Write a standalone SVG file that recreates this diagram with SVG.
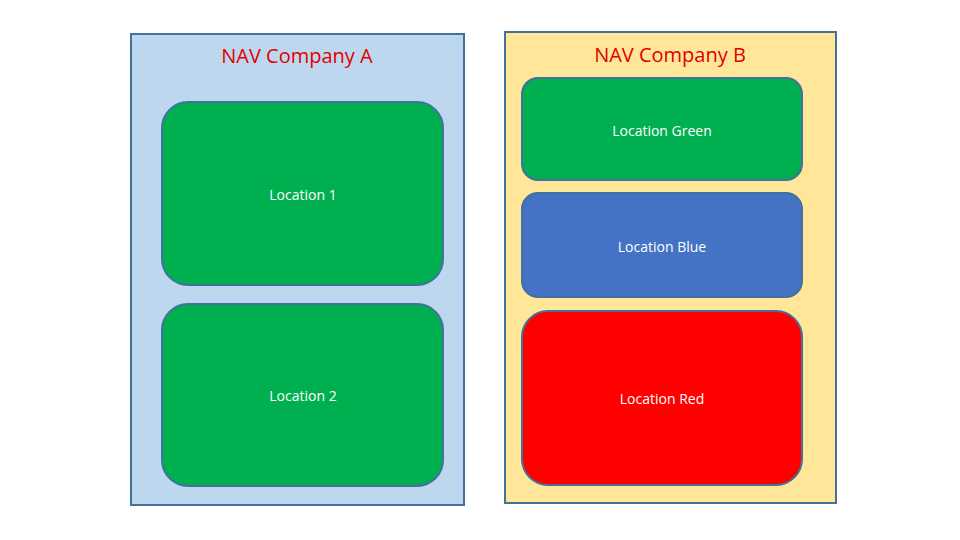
<svg xmlns="http://www.w3.org/2000/svg" width="960" height="540" viewBox="0 0 960 540">
<style>
.c{stroke:#41719C;stroke-width:2}
.n{stroke:#41719C;stroke-width:2}
.t{font-family:"Open Sans","Liberation Sans",sans-serif;font-size:14px;fill:#fff;text-anchor:middle;dominant-baseline:central}
.h{font-family:"Open Sans","Liberation Sans",sans-serif;font-size:20px;fill:#e00000;text-anchor:middle;dominant-baseline:central}
</style>
<rect width="960" height="540" fill="#fff"/>
<g id="companyA"><rect class="c" x="131" y="34" width="333" height="471" fill="#BDD7EE"/><text class="h" x="297" y="55">NAV Company A</text></g>
<g id="companyB"><rect class="c" x="505" y="32" width="331" height="471" fill="#FFE699"/><text class="h" x="670" y="54">NAV Company B</text></g>
<g id="loc1"><rect class="n" x="162" y="102" width="281" height="183" rx="26" fill="#00B050"/><text class="t" x="303" y="194">Location 1</text></g>
<g id="loc2"><rect class="n" x="162" y="304" width="281" height="182" rx="26" fill="#00B050"/><text class="t" x="303" y="395">Location 2</text></g>
<g id="locGreen"><rect class="n" x="522" y="78" width="280" height="102" rx="16" fill="#00B050"/><text class="t" x="662" y="130">Location Green</text></g>
<g id="locBlue"><rect class="n" x="522" y="193" width="280" height="104" rx="16" fill="#4472C4"/><text class="t" x="662" y="246">Location Blue</text></g>
<g id="locRed"><rect class="n" x="522" y="311" width="280" height="174" rx="26" fill="#FF0000"/><text class="t" x="662" y="398">Location Red</text></g>
<g id="connectors"/>
</svg>
